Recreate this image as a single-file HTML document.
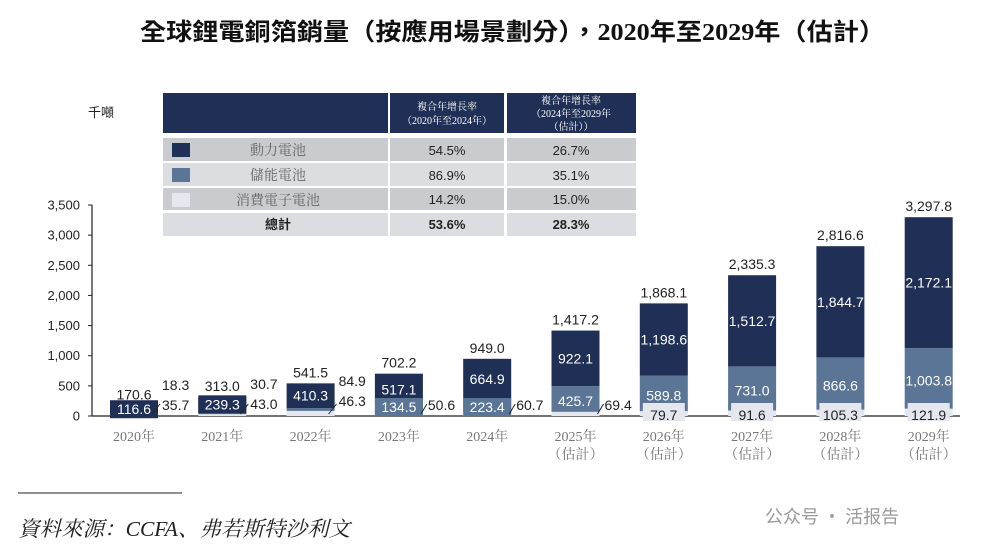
<!DOCTYPE html>
<html><head><meta charset="utf-8"><style>
body{margin:0;background:#fff;}
svg{display:block;font-family:"Liberation Sans","Noto Sans CJK TC",sans-serif;}
.serif{font-family:"Liberation Serif","Noto Serif CJK SC",serif;}
</style></head><body>
<svg id="chart" width="996" height="550" viewBox="0 0 996 550">
<text x="140" y="40" font-size="24" font-weight="bold" textLength="745" lengthAdjust="spacingAndGlyphs" fill="#111" font-family="'Liberation Serif','Noto Sans CJK TC',serif">全球鋰電銅箔銷量（按應用場景劃分），2020年至2029年（估計）</text>
<text x="88" y="117" font-size="13" fill="#222" font-family="'Noto Sans CJK TC',sans-serif">千噸</text>
<g id="table">
<rect x="163" y="93" width="225" height="40" fill="#1f2f55"/>
<rect x="390" y="93" width="114" height="40" fill="#1f2f55"/>
<rect x="507" y="93" width="129" height="40" fill="#1f2f55"/>
<text x="447" y="110" font-size="10" fill="#fff" text-anchor="middle" class="serif">複合年增長率</text>
<text x="447" y="124" font-size="10" fill="#fff" text-anchor="middle" class="serif">（2020年至2024年）</text>
<text x="571" y="104" font-size="10" fill="#fff" text-anchor="middle" class="serif">複合年增長率</text>
<text x="571" y="117" font-size="10" fill="#fff" text-anchor="middle" class="serif">（2024年至2029年</text>
<text x="571" y="130" font-size="10" fill="#fff" text-anchor="middle" class="serif">（估計））</text>
<g>
<rect x="163" y="138" width="225" height="23" fill="#c9cbcf"/><rect x="390" y="138" width="114" height="23" fill="#c9cbcf"/><rect x="507" y="138" width="129" height="23" fill="#c9cbcf"/>
<rect x="172" y="143" width="18" height="14" fill="#1f2f55"/>
<text x="278" y="155" font-size="14" fill="#666" text-anchor="middle" font-family="'Noto Serif CJK SC',serif">動力電池</text>
<text x="447" y="155" font-size="13" fill="#222" text-anchor="middle">54.5%</text><text x="571" y="155" font-size="13" fill="#222" text-anchor="middle">26.7%</text></g>
<g>
<rect x="163" y="163" width="225" height="23" fill="#dcdde0"/><rect x="390" y="163" width="114" height="23" fill="#dcdde0"/><rect x="507" y="163" width="129" height="23" fill="#dcdde0"/>
<rect x="172" y="168" width="18" height="14" fill="#5a7595"/>
<text x="278" y="180" font-size="14" fill="#666" text-anchor="middle" font-family="'Noto Serif CJK SC',serif">儲能電池</text>
<text x="447" y="180" font-size="13" fill="#222" text-anchor="middle">86.9%</text><text x="571" y="180" font-size="13" fill="#222" text-anchor="middle">35.1%</text></g>
<g>
<rect x="163" y="188" width="225" height="22" fill="#c9cbcf"/><rect x="390" y="188" width="114" height="22" fill="#c9cbcf"/><rect x="507" y="188" width="129" height="22" fill="#c9cbcf"/>
<rect x="172" y="193" width="18" height="14" fill="#e4e8ee"/>
<text x="278" y="205" font-size="14" fill="#666" text-anchor="middle" font-family="'Noto Serif CJK SC',serif">消費電子電池</text>
<text x="447" y="204" font-size="13" fill="#222" text-anchor="middle">14.2%</text><text x="571" y="204" font-size="13" fill="#222" text-anchor="middle">15.0%</text></g>
<g>
<rect x="163" y="213" width="225" height="23" fill="#dcdde0"/><rect x="390" y="213" width="114" height="23" fill="#dcdde0"/><rect x="507" y="213" width="129" height="23" fill="#dcdde0"/>
<text x="278" y="229" font-size="13" fill="#222" font-weight="bold" text-anchor="middle" font-family="'Noto Sans CJK TC',sans-serif">總計</text>
<text x="447" y="229" font-size="13" fill="#222" font-weight="bold" text-anchor="middle">53.6%</text><text x="571" y="229" font-size="13" fill="#222" font-weight="bold" text-anchor="middle">28.3%</text></g>
</g>
<g id="plot"></g>
<line x1="18" y1="493" x2="182" y2="493" stroke="#222" stroke-width="1"/>
<text x="18" y="536" font-size="21" font-style="italic" fill="#222" textLength="332" lengthAdjust="spacingAndGlyphs" font-family="'Liberation Serif','Noto Serif CJK SC',serif">資料來源：CCFA、弗若斯特沙利文</text>
<text x="765" y="523" font-size="18" fill="#999" font-family="'Noto Sans CJK SC',sans-serif">公众号 · 活报告</text>
</svg>
<script>
const years = ["2020年","2021年","2022年","2023年","2024年","2025年","2026年","2027年","2028年","2029年"];
const estimated = [false,false,false,false,false,true,true,true,true,true];
const power = [116.6,239.3,410.3,517.1,664.9,922.1,1198.6,1512.7,1844.7,2172.1];
const storage = [35.7,43.0,46.3,134.5,223.4,425.7,589.8,731.0,866.6,1003.8];
const consumer = [18.3,30.7,84.9,50.6,60.7,69.4,79.7,91.6,105.3,121.9];
const totals = [170.6,313.0,541.5,702.2,949.0,1417.2,1868.1,2335.3,2816.6,3297.8];
const yTicks = [0,500,1000,1500,2000,2500,3000,3500];

const NS="http://www.w3.org/2000/svg";
const plot=document.getElementById('plot');
const y0=416, yTop=205, yMax=3500;
const y=v=>y0-(v/yMax)*(y0-yTop);
const x=i=>134+i*88.3;
const bw=48;
const FS=14;
const fmt=v=>v.toLocaleString('en-US',{minimumFractionDigits:1,maximumFractionDigits:1});
function el(tag,attrs,parent){const e=document.createElementNS(NS,tag);for(const k in attrs)e.setAttribute(k,attrs[k]);(parent||plot).appendChild(e);return e;}
function txt(s,a,parent){const t=el('text',a,parent);t.textContent=s;return t;}

const ax=el('line',{x1:92,y1:y0,x2:960,y2:y0,stroke:'#222','stroke-width':1.2});


const ay=el('line',{x1:92,y1:yTop,x2:92,y2:y0,stroke:'#222','stroke-width':1.2});


yTicks.forEach(v=>{
  el('line',{x1:88,y1:y(v),x2:92,y2:y(v),stroke:'#222'});
  const t=txt(v.toLocaleString('en-US'),{x:80,y:y(v)+4.5,'font-size':13,'text-anchor':'end',fill:'#222'});
  
  
});

years.forEach((yr,i)=>{
  const cx=x(i), L=cx-bw/2;
  const g=el('g',{});
  
  
  const c0=0,c1=consumer[i],s1=c1+storage[i],p1=s1+power[i];
  const rc=el('rect',{x:L,y:y(c1),width:bw,height:y(c0)-y(c1),fill:'#e4e8ee'},g);
  
  
  const rs=el('rect',{x:L,y:y(s1),width:bw,height:y(c1)-y(s1),fill:'#5a7595'},g);
  
  
  const rp=el('rect',{x:L,y:y(p1),width:bw,height:y(s1)-y(p1),fill:'#1f2f55'},g);
  
  
  let py=(y(s1)+y(p1))/2+5;
  if(y(s1)-y(p1)<18){el('rect',{x:L,y:py-14,width:bw,height:18,fill:'#1f2f55'},g);}
  txt(fmt(power[i]),{x:cx,y:py,'font-size':FS,'text-anchor':'middle',fill:'#fff'},g);
  if(i<=2){
    txt(fmt(storage[i]),{x:cx+28,y:y(c1)-5,'font-size':FS,fill:'#222'},g);
    el('line',{x1:cx+18,y1:y0-2,x2:cx+26,y2:y0-12,stroke:'#222'},g);
  } else {
    let sy=(y(c1)+y(s1))/2+7;
    if(y(c1)-y(s1)<18){sy=y0-4;el('rect',{x:L,y:sy-14,width:bw,height:18,fill:'#5a7595'},g);}
    txt(fmt(storage[i]),{x:cx,y:sy,'font-size':FS,'text-anchor':'middle',fill:'#fff'},g);
  }
  if(i<=2){
    txt(fmt(consumer[i]),{x:cx+28,y:y(c1)-25,'font-size':FS,fill:'#222'},g);
  } else if(i<=5){
    el('line',{x1:cx+22,y1:y0-2,x2:cx+28,y2:y0-12,stroke:'#222'},g);
    txt(fmt(consumer[i]),{x:cx+29,y:y0-6,'font-size':FS,fill:'#222'},g);
  } else {
    el('rect',{x:cx-21,y:y0-13,width:42,height:18,fill:'#e4e8ee'},g);
    txt(fmt(consumer[i]),{x:cx,y:y0+4,'font-size':FS,'text-anchor':'middle',fill:'#222'},g);
  }
  const tl=txt(fmt(totals[i]),{x:cx,y:y(p1)-6,'font-size':FS,'text-anchor':'middle',fill:'#222'},g);
  
  
  const xl=txt(yr,{x:cx,y:441,'font-size':14,'text-anchor':'middle',fill:'#777','font-family':"'Liberation Serif','Noto Serif CJK SC',serif"});
  
  
  if(estimated[i]) txt('（估計）',{x:cx,y:459,'font-size':14,'text-anchor':'middle',fill:'#777','font-family':"'Noto Serif CJK SC',serif"});
});
</script>
</body></html>
